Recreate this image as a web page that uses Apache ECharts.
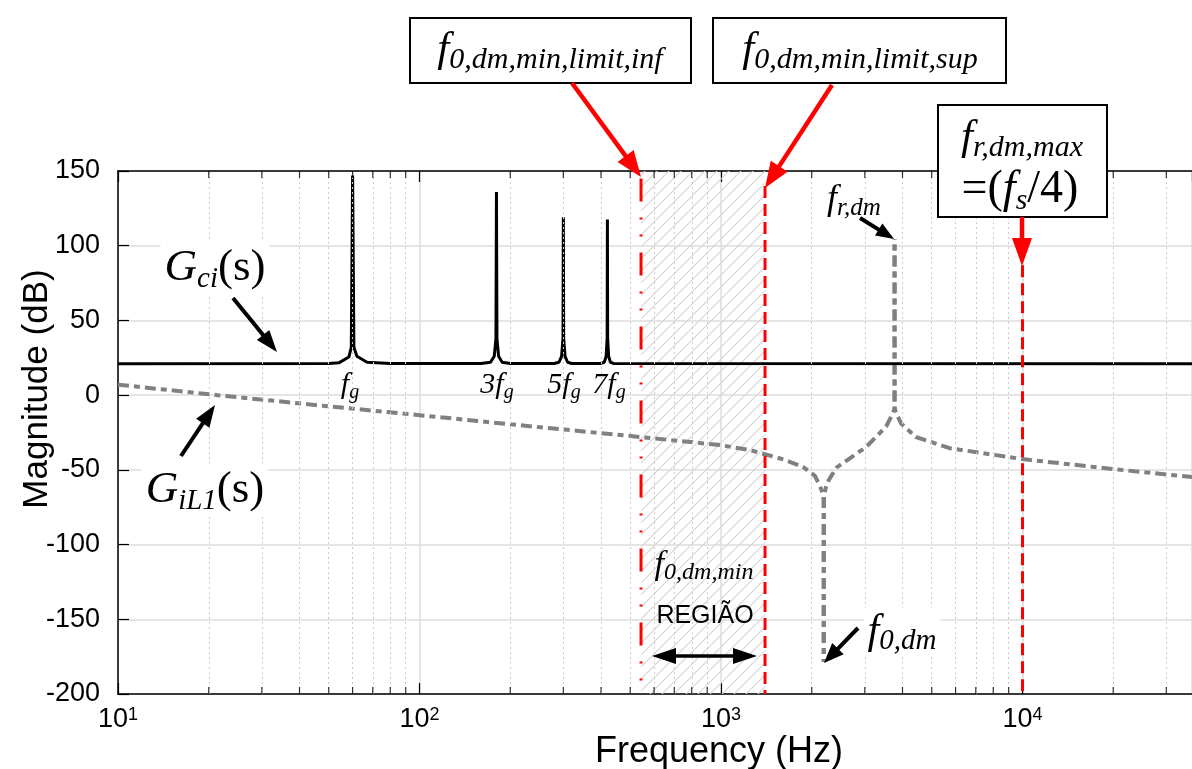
<!DOCTYPE html>
<html>
<head>
<meta charset="utf-8">
<script src="https://cdn.jsdelivr.net/npm/echarts@6/dist/echarts.min.js"></script>
<style>
html, body { margin: 0; padding: 0; background: #fff; }
#chart { width: 1192px; height: 769px; }
</style>
</head>
<body>
<div id="chart"></div>
<script>
// ---- data ----
// G_ci(s): flat ~21 dB with resonant peaks at fg, 3fg, 5fg, 7fg
var gciFreq = [10, 50, 54, 58.3, 59.4, 60, 60.6, 62, 67, 80,
    160, 172, 177, 179.3, 180, 180.7, 183, 188, 200,
    280, 290, 296, 299.2, 300, 300.8, 304, 310, 320,
    400, 410, 416, 419.2, 420, 420.8, 424, 430, 440, 36500];
var gciMag = [21, 21.2, 21.6, 25.5, 32, 147, 32, 26, 22, 21.2,
    21.2, 22, 26, 38, 136, 38, 26, 22, 21.2,
    21.2, 22, 26, 38, 119, 38, 26, 22, 21.2,
    21.2, 22, 26, 38, 117.5, 38, 26, 22, 21.2, 21];

// G_iL1(s), cut in three pieces so the dashes of the vertical spikes line up
// 1) from 10 Hz down into the anti-resonance f0,dm
var gilFreqA = [10, 21.4, 50, 100, 200, 540, 1000, 1250, 1610, 1870, 2050, 2130, 2180, 2192, 2192];
var gilMagA = [7, 0, -7.5, -13.4, -19.5, -28, -33.5, -36.8, -43, -48, -54, -61, -66, -72, -178.5];
// 2) from the notch up to the resonance fr,dm
var gilFreqB = [2192, 2192, 2204, 2243, 2416, 3034, 3530, 3700, 3758, 3765, 3765];
var gilMagB = [-178.5, -72, -66, -59, -48.5, -34.6, -21, -13, -9.5, -5, 104.5];
// 3) from the resonance peak to the right edge
var gilFreqC = [3765, 3765, 3772, 3850, 3960, 4430, 5730, 10000, 20000, 36500];
var gilMagC = [104.5, -5, -9.5, -14, -19, -28, -35.5, -42.8, -49.5, -54.8];

// red limit lines
var limitInf = 543;      // f0,dm,min,limit,inf
var limitInfTop = 145;
var limitSup = 1400;     // f0,dm,min,limit,sup
var limitSupTop = 140;
var frMax = 10000;       // fr,dm,max = fs/4
var frMaxTop = 87;

var xMin = 10, xMax = 36500;
var yMin = -200, yMax = 150, yStep = 50;
var minorFreqs = [20, 30, 40, 50, 60, 70, 80, 90, 200, 300, 400, 500, 600, 700, 800, 900,
    2000, 3000, 4000, 5000, 6000, 7000, 8000, 9000, 20000, 30000];

function zip(a, b) { return a.map(function (v, i) { return [v, b[i]]; }); }

var sans = '"Liberation Sans", Arial, sans-serif';
var serif = '"Liberation Serif", "DejaVu Serif", serif';
var gilDash = [11, 5, 6, 5];   // symmetric about 5.5, period 27
var dashPeriod = 27;

// hatch pattern for the region
var hatch = document.createElement('canvas');
hatch.width = 12; hatch.height = 12;
var hctx = hatch.getContext('2d');
hctx.strokeStyle = '#d6d6d6';
hctx.lineWidth = 1.2;
hctx.beginPath();
hctx.moveTo(0, 12); hctx.lineTo(12, 0);
hctx.moveTo(-3, 3); hctx.lineTo(3, -3);
hctx.moveTo(9, 15); hctx.lineTo(15, 9);
hctx.stroke();

var chart = echarts.init(document.getElementById('chart'));

// ---- annotation helpers ----
function arrow(x1, y1, x2, y2, color, w, hl, hw) {
    var dx = x2 - x1, dy = y2 - y1, len = Math.sqrt(dx * dx + dy * dy);
    var ux = dx / len, uy = dy / len;
    var bx = x2 - ux * hl, by = y2 - uy * hl;
    return [
        { type: 'line', z: 100, shape: { x1: x1, y1: y1, x2: bx + ux * 2, y2: by + uy * 2 },
          style: { stroke: color, lineWidth: w } },
        { type: 'polygon', z: 100,
          shape: { points: [[x2, y2], [bx - uy * hw, by + ux * hw], [bx + uy * hw, by - ux * hw]] },
          style: { fill: color } }
    ];
}

function mathRich(fs, sfs) {
    return {
        f: { fontFamily: serif, fontStyle: 'italic', fontSize: fs, verticalAlign: 'middle', lineHeight: fs * 1.15 },
        u: { fontFamily: serif, fontSize: fs, verticalAlign: 'middle', lineHeight: fs * 1.15 },
        s: { fontFamily: serif, fontStyle: 'italic', fontSize: sfs, verticalAlign: 'bottom' }
    };
}

function mathLabel(x, y, text, fs, sfs, bg) {
    return {
        type: 'text', z: 100, x: x, y: y,
        style: {
            text: text, align: 'center', verticalAlign: 'middle', fill: '#000',
            backgroundColor: bg ? '#fff' : 'transparent', padding: bg ? [0, 4] : 0,
            rich: mathRich(fs, sfs)
        }
    };
}

function box(x, y, w, h) {
    return { type: 'rect', z: 99, shape: { x: x, y: y, width: w, height: h },
             style: { fill: '#fff', stroke: '#000', lineWidth: 2 } };
}

var graphics = [
    box(410, 18, 281, 65),
    mathLabel(550, 50, '{f|f}{s|0,dm,min,limit,inf}', 43, 30),
    box(713, 18, 293, 65),
    mathLabel(860, 50, '{f|f}{s|0,dm,min,limit,sup}', 43, 30),
    box(938, 105, 169, 112),
    mathLabel(1022, 138, '{f|f}{s|r,dm,max}', 43, 30),
    mathLabel(1020, 190, '{u|=(}{f|f}{s|s}{u|/4)}', 46, 30),
    mathLabel(215, 268, '{f|G}{s|ci}{u|(s)}', 45, 29, true),
    mathLabel(205, 490, '{f|G}{s|iL1}{u|(s)}', 45, 29, true),
    mathLabel(350, 385, '{f|f}{s|g}', 30, 20),
    mathLabel(497, 385, '{f|3f}{s|g}', 30, 20),
    mathLabel(564, 385, '{f|5f}{s|g}', 30, 20),
    mathLabel(609, 385, '{f|7f}{s|g}', 30, 20),
    mathLabel(854, 200, '{f|f}{s|r,dm}', 36, 25),
    mathLabel(704, 565, '{f|f}{s|0,dm,min}', 34, 24),
    mathLabel(902, 632, '{f|f}{s|0,dm}', 42, 29, true),
    { type: 'text', z: 100, x: 705, y: 616,
      style: { text: 'REGIÃO', font: '25px ' + sans, fill: '#000', align: 'center', verticalAlign: 'middle' } },
    { type: 'text', z: 100, x: 719, y: 752,
      style: { text: 'Frequency (Hz)', font: '36px ' + sans, fill: '#000', align: 'center', verticalAlign: 'middle' } },
    { type: 'text', z: 100, x: 37, y: 389, rotation: Math.PI / 2,
      style: { text: 'Magnitude (dB)', font: '35px ' + sans, fill: '#000', align: 'center', verticalAlign: 'middle' } }
];
graphics = graphics
    .concat(arrow(233, 298, 277, 352, '#000', 4, 22, 8))
    .concat(arrow(181, 456, 215, 405, '#000', 4, 22, 8))
    .concat(arrow(860, 218, 894, 239, '#000', 4, 18, 7))
    .concat(arrow(858, 628, 824, 663, '#000', 4, 20, 8))
    .concat(arrow(705, 656, 652, 656, '#000', 3.5, 24, 8))
    .concat(arrow(705, 656, 757, 656, '#000', 3.5, 24, 8))
    .concat(arrow(572, 83, 641, 177, '#ff0000', 4.5, 26, 10))
    .concat(arrow(832, 85, 765, 188, '#ff0000', 4.5, 26, 10))
    .concat(arrow(1022, 217, 1022, 266, '#ff0000', 4.5, 28, 10));

function gilSeries(name, freqs, mags) {
    return {
        name: name, type: 'line', z: 3, showSymbol: false, silent: true,
        data: zip(freqs, mags),
        lineStyle: { color: '#808080', width: 4, type: gilDash, dashOffset: 0 }
    };
}

var option = {
    animation: false,
    backgroundColor: '#fff',
    grid: { left: 118, right: 0, top: 171, bottom: 75 },
    xAxis: [{
        type: 'log', logBase: 10, min: xMin, max: xMax,
        axisLine: { onZero: false, lineStyle: { color: '#000', width: 1.5 } },
        axisTick: { inside: true, length: 11, lineStyle: { color: '#000', width: 1.2 } },
        axisLabel: {
            margin: 12, color: '#000', showMaxLabel: false,
            formatter: function (v) {
                var e = Math.log10(v);
                if (Math.abs(e - Math.round(e)) > 1e-6) return '';
                return '{b|10}{s|' + Math.round(e) + '}';
            },
            rich: {
                b: { fontFamily: sans, fontSize: 27, color: '#000', verticalAlign: 'bottom' },
                s: { fontFamily: sans, fontSize: 18, color: '#000', verticalAlign: 'top' }
            }
        },
        splitLine: { show: true, lineStyle: { color: '#dcdcdc', width: 1.5 } }
    }, {
        type: 'log', logBase: 10, min: xMin, max: xMax, position: 'top',
        axisLine: { onZero: false, lineStyle: { color: '#000', width: 1.5 } },
        axisTick: { inside: true, length: 11, lineStyle: { color: '#000', width: 1.2 } },
        axisLabel: { show: false },
        splitLine: { show: false }
    }],
    yAxis: {
        type: 'value', min: yMin, max: yMax, interval: yStep,
        axisLine: { show: true, lineStyle: { color: '#000', width: 1.5 } },
        axisTick: { inside: true, length: 11, lineStyle: { color: '#000', width: 1.2 } },
        axisLabel: { margin: 18, fontFamily: sans, fontSize: 27, color: '#000' },
        splitLine: { show: true, lineStyle: { color: '#dcdcdc', width: 1.5 } }
    },
    graphic: graphics,
    series: [
        {   // hatched REGIÃO band + dotted minor grid
            type: 'line', z: 1, data: [], silent: true,
            markArea: {
                silent: true,
                itemStyle: { color: { image: hatch, repeat: 'repeat' } },
                data: [[{ xAxis: limitInf, yAxis: yMax }, { xAxis: limitSup, yAxis: yMin }]]
            },
            markLine: {
                silent: true, symbol: ['none', 'none'], label: { show: false },
                lineStyle: { color: '#cccccc', width: 1, type: [2, 3] },
                data: minorFreqs.map(function (f) { return { xAxis: f }; })
            }
        },
        {   // minor ticks bottom
            type: 'scatter', z: 6, clip: false, silent: true,
            symbol: 'rect', symbolSize: [1.2, 7], symbolOffset: [0, -3.5],
            itemStyle: { color: '#000' },
            data: minorFreqs.map(function (f) { return [f, yMin]; })
        },
        {   // minor ticks top
            type: 'scatter', z: 6, clip: false, silent: true,
            symbol: 'rect', symbolSize: [1.2, 7], symbolOffset: [0, 3.5],
            itemStyle: { color: '#000' },
            data: minorFreqs.map(function (f) { return [f, yMax]; })
        },
        gilSeries('GiL1a', gilFreqA, gilMagA),
        gilSeries('GiL1b', gilFreqB, gilMagB),
        gilSeries('GiL1c', gilFreqC, gilMagC),
        {
            name: 'Gci', type: 'line', z: 4, showSymbol: false, silent: true,
            data: zip(gciFreq, gciMag),
            lineStyle: { color: '#000', width: 3 }
        },
        {
            name: 'limitInf', type: 'line', z: 5, showSymbol: false, silent: true,
            data: [[limitInf, limitInfTop], [limitInf, yMin]],
            lineStyle: { color: '#ff0000', width: 3, type: [23, 16, 2, 15, 2, 16] }
        },
        {
            name: 'limitSup', type: 'line', z: 5, showSymbol: false, silent: true,
            data: [[limitSup, limitSupTop], [limitSup, yMin]],
            lineStyle: { color: '#ff0000', width: 3, type: [12, 6] }
        },
        {
            name: 'frMax', type: 'line', z: 5, showSymbol: false, silent: true,
            data: [[frMax, frMaxTop], [frMax, yMin]],
            lineStyle: { color: '#ff0000', width: 3, type: [12, 6] }
        }
    ]
};

chart.setOption(option);

// line the dashes of the overlapping up/down traces up with each other
function pixLen(freqs, mags) {
    var s = 0, prev = null;
    for (var i = 0; i < freqs.length; i++) {
        var p = chart.convertToPixel({ xAxisIndex: 0, yAxisIndex: 0 }, [freqs[i], mags[i]]);
        if (prev) s += Math.sqrt((p[0] - prev[0]) * (p[0] - prev[0]) + (p[1] - prev[1]) * (p[1] - prev[1]));
        prev = p;
    }
    return s;
}
function mod(a, m) { return ((a % m) + m) % m; }
var offA = 0;
var offB = mod(11 - offA - pixLen(gilFreqA, gilMagA), dashPeriod);
var offC = mod(11 - offB - pixLen(gilFreqB, gilMagB), dashPeriod);
chart.setOption({
    series: [
        { name: 'GiL1a', lineStyle: { dashOffset: offA } },
        { name: 'GiL1b', lineStyle: { dashOffset: offB } },
        { name: 'GiL1c', lineStyle: { dashOffset: offC } }
    ]
});

window.addEventListener('resize', function () {
    chart.resize();
});
</script>
</body>
</html>
